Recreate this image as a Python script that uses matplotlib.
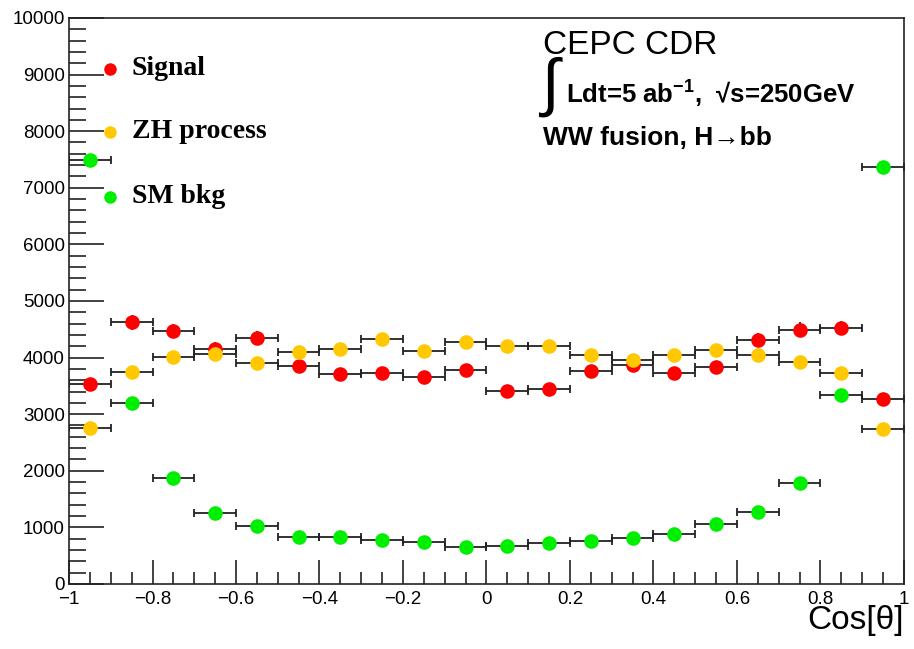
import numpy as np
import matplotlib.pyplot as plt
from matplotlib.ticker import MultipleLocator

# cos(theta) bin centres, 20 bins from -1 to 1
cos_theta = [-0.95, -0.85, -0.75, -0.65, -0.55, -0.45, -0.35, -0.25, -0.15, -0.05,
             0.05, 0.15, 0.25, 0.35, 0.45, 0.55, 0.65, 0.75, 0.85, 0.95]
bin_half = 0.05

signal = [3530, 4620, 4470, 4160, 4350, 3850, 3710, 3730, 3660, 3780,
          3410, 3440, 3760, 3870, 3730, 3830, 4310, 4490, 4520, 3270]
zh_process = [2750, 3745, 4010, 4060, 3905, 4100, 4150, 4330, 4115, 4275,
              4205, 4205, 4045, 3960, 4045, 4135, 4045, 3920, 3730, 2740]
sm_bkg = [7490, 3200, 1870, 1250, 1025, 830, 830, 775, 740, 655,
          670, 725, 760, 815, 885, 1060, 1270, 1785, 3340, 7370]

signal_err = [110, 125, 120, 115, 120, 110, 110, 110, 110, 110,
              105, 105, 110, 110, 110, 110, 125, 130, 130, 105]
zh_err = [60, 70, 70, 70, 70, 70, 70, 70, 70, 70,
          70, 70, 70, 70, 70, 70, 70, 70, 70, 60]
bkg_err = [50, 35, 25, 20, 20, 15, 15, 15, 15, 15,
           15, 15, 15, 15, 15, 20, 20, 25, 35, 50]

series = [
    ("Signal", signal, signal_err, "#ff0000"),
    ("ZH process", zh_process, zh_err, "#ffc800"),
    ("SM bkg", sm_bkg, bkg_err, "#00ee00"),
]

plt.rcParams['font.family'] = ['Liberation Sans', 'DejaVu Sans']
plt.rcParams['mathtext.fontset'] = 'custom'
plt.rcParams['mathtext.bf'] = 'Liberation Sans:bold'

fig = plt.figure(figsize=(9.14, 6.49), dpi=100)
ax = fig.add_axes([0.0755, 0.1002, 0.9135, 0.8721])

for name, vals, errs, color in series:
    # horizontal bin-width bars with end caps, vertical stat bars without
    ax.errorbar(cos_theta, vals, xerr=bin_half, fmt='none',
                ecolor='#222222', elinewidth=1.3, capsize=3, capthick=1.3, zorder=2)
    ax.errorbar(cos_theta, vals, yerr=errs, fmt='none',
                ecolor='#222222', elinewidth=1.3, capsize=0, zorder=2)
    ax.plot(cos_theta, vals, 'o', color=color, markersize=10.5, markeredgewidth=0,
            zorder=3)

ax.set_xlim(-1, 1)
ax.set_ylim(0, 10000)
ax.xaxis.set_major_locator(MultipleLocator(0.2))
ax.xaxis.set_minor_locator(MultipleLocator(0.05))
ax.yaxis.set_major_locator(MultipleLocator(1000))
ax.yaxis.set_minor_locator(MultipleLocator(200))
ax.tick_params(axis='both', which='both', direction='in', top=False, right=False,
               labelsize=13.5, width=1.2, color='#222222')
ax.tick_params(axis='x', which='major', length=17, pad=5)
ax.tick_params(axis='x', which='minor', length=9)
ax.tick_params(axis='y', which='major', length=25, pad=3)
ax.tick_params(axis='y', which='minor', length=12)
ax.xaxis.set_major_formatter(
    plt.FuncFormatter(lambda v, p: f"{round(v, 2):g}".replace('-', '\u2212')))
for s in ax.spines.values():
    s.set_linewidth(1.2)
    s.set_color('#222222')

ax.set_xlabel("Cos[\u03b8]", fontsize=24, loc='right', labelpad=-2)

# legend drawn by hand in serif bold
leg_y = [9100, 7990, 6840]
for (name, vals, errs, color), y in zip(series, leg_y):
    ax.plot(-0.902, y, 'o', color=color, markersize=9, markeredgewidth=0)
    ax.text(-0.85, y, name, fontsize=20, fontweight='bold', family='Liberation Serif',
            va='center', ha='left')

ax.text(0.135, 9520, "CEPC CDR", fontsize=24, va='center', ha='left')
ax.text(0.13, 8780, "\u222b", fontsize=46, va='center', ha='left')
ax.text(0.19, 8680, "Ldt=5 ab$^{\\mathbf{-1}}$,  \u221as=250GeV", fontsize=18.5,
        fontweight='bold', va='center', ha='left')
ax.text(0.135, 7880, "WW fusion, H\u2192bb", fontsize=19, fontweight='bold',
        va='center', ha='left')

fig.savefig("out.png", dpi=100)
